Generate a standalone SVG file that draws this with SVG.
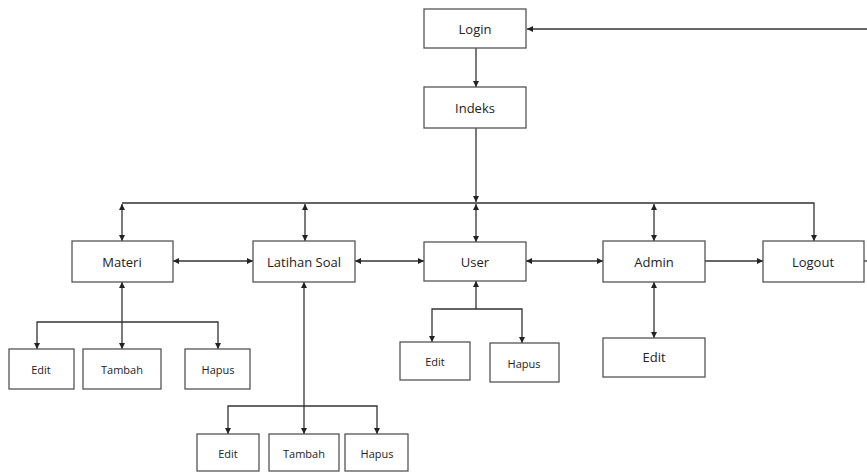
<svg xmlns="http://www.w3.org/2000/svg" width="867" height="472" viewBox="0 0 867 472">
  <style>
    .box { fill: #ffffff; stroke: #555555; stroke-width: 1.3; }
    .lbl { font-family: "Open Sans", "Liberation Sans", sans-serif; font-size: 13px; fill: #222222; text-anchor: middle; dominant-baseline: central; }
    .sm { font-size: 11px; }
    .wire { fill: none; stroke: #333333; stroke-width: 1.3; }
    .one { marker-end: url(#arrow); }
    .two { marker-start: url(#arrow); marker-end: url(#arrow); }
    .up { marker-start: url(#arrow); }
  </style>
  <defs>
    <marker id="arrow" markerUnits="userSpaceOnUse" markerWidth="7" markerHeight="7" refX="6" refY="3" orient="auto-start-reverse">
      <path d="M0,0 L6,3 L0,6 z" fill="#222222"/>
    </marker>
  </defs>
  <rect width="867" height="472" fill="#ffffff"/>

  <g id="connectors">
    <path class="wire one" d="M867,29 H527"/>
    <path class="wire one" d="M476,48 V87"/>
    <path class="wire one" d="M476,128 V202"/>
    <path class="wire one" d="M122,203 H814 V241"/>
    <path class="wire two" d="M122,204 V241"/>
    <path class="wire two" d="M305,204 V241"/>
    <path class="wire two" d="M476,204 V242"/>
    <path class="wire two" d="M654,204 V241"/>
    <path class="wire two" d="M173,261 H253"/>
    <path class="wire two" d="M355,261 H424"/>
    <path class="wire two" d="M526,261 H603"/>
    <path class="wire one" d="M705,261 H763"/>
    <path class="wire" d="M864,261 H867"/>
    <path class="wire two" d="M122,282 V349"/>
    <path class="wire two" d="M37,349 V322 H218 V349"/>
    <path class="wire two" d="M304,282 V434"/>
    <path class="wire two" d="M228,434 V406 H377 V434"/>
    <path class="wire up" d="M476,281 V309"/>
    <path class="wire two" d="M432,342 V309 H522 V343"/>
    <path class="wire two" d="M654,282 V338"/>
  </g>

  <g id="login"><rect class="box" x="424" y="9" width="102" height="39"/><text class="lbl" x="475" y="29">Login</text></g>
  <g id="indeks"><rect class="box" x="424" y="87" width="102" height="41"/><text class="lbl" x="475" y="108">Indeks</text></g>

  <g id="materi"><rect class="box" x="72" y="241" width="101" height="41"/><text class="lbl" x="122" y="262">Materi</text></g>
  <g id="latihan-soal"><rect class="box" x="253" y="241" width="102" height="41"/><text class="lbl" x="304" y="262">Latihan Soal</text></g>
  <g id="user"><rect class="box" x="424" y="242" width="102" height="39"/><text class="lbl" x="475" y="262">User</text></g>
  <g id="admin"><rect class="box" x="603" y="241" width="102" height="41"/><text class="lbl" x="654" y="262">Admin</text></g>
  <g id="logout"><rect class="box" x="763" y="241" width="101" height="41"/><text class="lbl" x="813" y="262">Logout</text></g>

  <g id="materi-edit"><rect class="box" x="9" y="349" width="65" height="40"/><text class="lbl sm" x="41" y="369">Edit</text></g>
  <g id="materi-tambah"><rect class="box" x="83" y="349" width="78" height="40"/><text class="lbl sm" x="122" y="369">Tambah</text></g>
  <g id="materi-hapus"><rect class="box" x="185" y="349" width="65" height="40"/><text class="lbl sm" x="218" y="369">Hapus</text></g>

  <g id="soal-edit"><rect class="box" x="197" y="434" width="62" height="37"/><text class="lbl sm" x="228" y="453">Edit</text></g>
  <g id="soal-tambah"><rect class="box" x="269" y="434" width="70" height="37"/><text class="lbl sm" x="304" y="453">Tambah</text></g>
  <g id="soal-hapus"><rect class="box" x="345" y="434" width="63" height="37"/><text class="lbl sm" x="377" y="453">Hapus</text></g>

  <g id="user-edit"><rect class="box" x="400" y="342" width="70" height="38"/><text class="lbl sm" x="435" y="361">Edit</text></g>
  <g id="user-hapus"><rect class="box" x="490" y="343" width="69" height="39"/><text class="lbl sm" x="524" y="363">Hapus</text></g>

  <g id="admin-edit"><rect class="box" x="603" y="338" width="102" height="39"/><text class="lbl" x="654" y="357">Edit</text></g>
</svg>
